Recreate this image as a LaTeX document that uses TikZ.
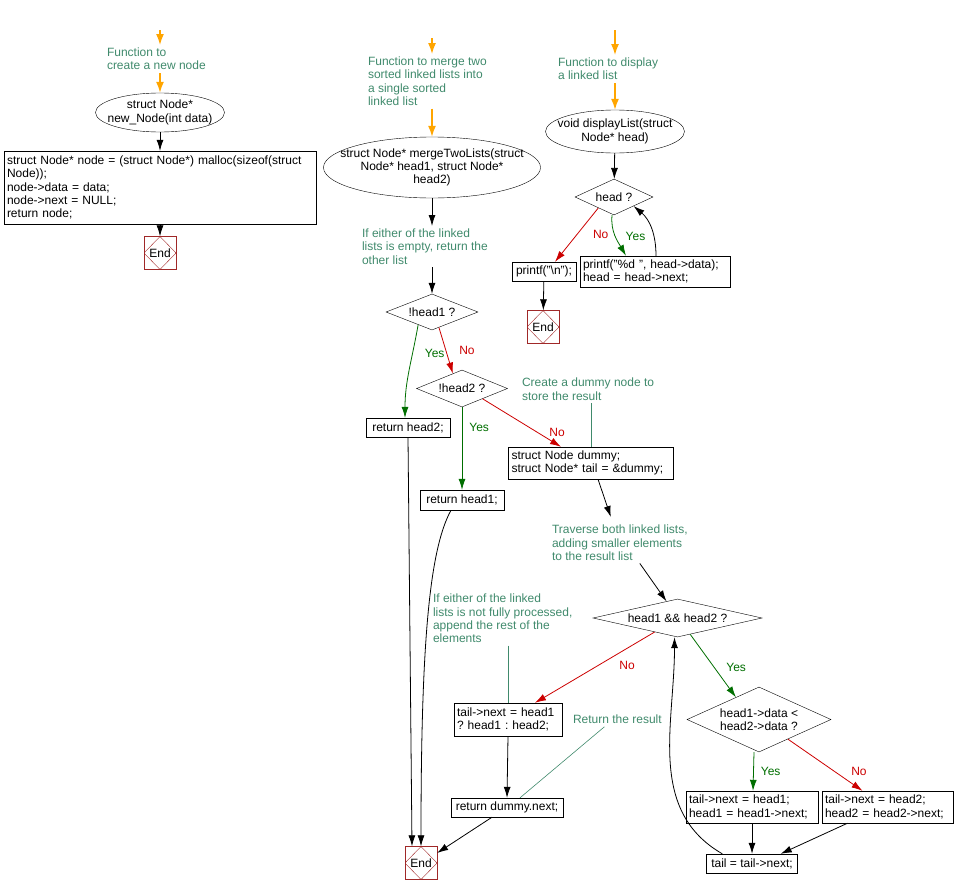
\documentclass[tikz,border=0pt]{standalone}
\usepackage{fontspec}
\setmainfont{Liberation Sans}
\usetikzlibrary{shapes.geometric,arrows.meta,positioning,calc}
\definecolor{notegreen}{RGB}{64,138,108}
\definecolor{yesgreen}{RGB}{0,110,0}
\definecolor{nored}{RGB}{204,0,0}
\definecolor{entryorange}{RGB}{255,165,0}
\definecolor{endred}{RGB}{160,40,40}
\tikzset{
    every node/.style={font=\fontsize{12}{13.3}\selectfont\frenchspacing},
    func/.style={ellipse, draw, align=center, inner xsep=-30pt, inner ysep=0pt},
    proc/.style={draw, align=center, inner sep=3pt},
    stmt/.style={draw, align=left, inner sep=3pt},
    decision/.style={diamond, draw, align=center, inner sep=0pt},
    endbox/.style={draw=endred, minimum width=32pt, minimum height=33pt, inner sep=0pt,
        path picture={\draw[endred] (path picture bounding box.north) -- (path picture bounding box.east)
            -- (path picture bounding box.south) -- (path picture bounding box.west) -- cycle;}},
    note/.style={text=notegreen, align=left, inner sep=0pt, outer sep=3pt, anchor=north west},
    flow/.style={-{Latex[length=11pt,width=7pt]}, line width=0.8pt},
    entry/.style={-{Latex[length=11pt,width=8pt]}, entryorange, line width=1.5pt},
    yesarrow/.style={flow, yesgreen},
    noarrow/.style={flow, nored},
    link/.style={notegreen, line width=0.6pt},
    lbl/.style={inner sep=1pt}
}
\begin{document}
\begin{tikzpicture}[x=1pt, y=-1pt]
\useasboundingbox (0,0) rectangle (955,894);

\coordinate (in1) at (160,30);
\node[note] (c1) at (104,45) {Function to\\create a new node};
\node[func, minimum width=129pt, minimum height=39pt] (newnode) at (160,112.5) {struct Node*\\new\_Node(int data)};
\node[stmt, text width=306pt, minimum height=73pt, below of=newnode, node distance=75pt] (alloc) {struct Node* node = (struct Node*) malloc(sizeof(struct\\Node));\\node->data = data;\\node->next = NULL;\\return node;};
\node[endbox, below of=alloc, node distance=65.5pt] (end1) {End};

\coordinate (in2) at (432,38);
\node[note] (c2) at (365,54) {Function to merge two\\sorted linked lists into\\a single sorted\\linked list};
\node[func, minimum width=217pt, minimum height=61pt] (merge) at (432,167.5) {struct Node* mergeTwoLists(struct\\Node* head1, struct Node*\\head2)};
\node[note] (c4) at (359,226) {If either of the linked\\lists is empty, return the\\other list};
\node[decision, aspect=2.5, minimum width=92pt, minimum height=36pt, below of=merge, node distance=144.5pt] (h1) {!head1 ?};
\node[decision, aspect=2.5, minimum width=91pt, minimum height=37pt, below of=h1, node distance=76.5pt, xshift=30pt] (h2) {!head2 ?};
\node[proc, minimum width=84pt, minimum height=19pt, below of=h1, node distance=115.5pt, xshift=-24pt] (ret2) {return head2;};
\node[proc, minimum width=84pt, minimum height=20pt, below of=h2, node distance=111.5pt] (ret1) {return head1;};
\node[note] (c5) at (519,375) {Create a dummy node to\\store the result};
\node[stmt, text width=159pt, minimum height=32pt] (dummy) at (591,463) {struct Node dummy;\\struct Node* tail = \&dummy;};
\node[note] (c6) at (549,522) {Traverse both linked lists,\\adding smaller elements\\to the result list};
\node[decision, aspect=4.4, minimum width=169pt, minimum height=38pt] (hh) at (677.5,618) {head1 \&\& head2 ?};
\node[decision, aspect=2.2, minimum width=144pt, minimum height=65pt] (hd) at (759,719.5) {head1->data <\\head2->data ?};
\node[stmt, text width=126pt, minimum height=32pt, below of=hd, node distance=87.5pt, xshift=-7pt] (lbox) {tail->next = head1;\\head1 = head1->next;};
\node[stmt, text width=125pt, minimum height=32pt, right of=lbox, node distance=135.5pt] (rbox) {tail->next = head2;\\head2 = head2->next;};
\node[proc, minimum width=91pt, minimum height=19pt, below of=lbox, node distance=56.5pt] (tail) {tail = tail->next;};
\node[note] (c7) at (430,591) {If either of the linked\\lists is not fully processed,\\append the rest of the\\elements};
\node[stmt, text width=102pt, minimum height=33pt] (append) at (508,719.5) {tail->next = head1\\? head1 : head2;};
\node[note] (c8) at (570,712) {Return the result};
\node[proc, minimum width=112pt, minimum height=19pt, below of=append, node distance=88pt, xshift=-1pt] (retd) {return dummy.next;};
\node[endbox] (end3) at (421,863) {End};

\coordinate (in3) at (615,30);
\node[note] (c3) at (555,55) {Function to display\\a linked list};
\node[func, minimum width=139pt, minimum height=43pt] (disp) at (615,131.5) {void displayList(struct\\Node* head)};
\node[decision, aspect=2.2, minimum width=78pt, minimum height=36pt, below of=disp, node distance=65.5pt, xshift=-1pt] (hq) {head ?};
\node[proc, minimum width=64pt, minimum height=19pt] (pf) at (544,271.5) {printf("\textbackslash n");};
\node[stmt, text width=144pt, minimum height=31pt, right of=pf, node distance=111pt] (pbox) {printf("\%d ", head->data);\\head = head->next;};
\node[endbox, below of=pf, node distance=55.5pt, xshift=-1pt] (end2) {End};

\draw[entry] (in1) -- (in1 |- c1.north);
\draw[entry] (newnode |- c1.south) -- (newnode);
\draw[flow] (newnode) -- (alloc);
\draw[flow] (alloc) -- (end1);

\draw[entry] (in2) -- (in2 |- c2.north);
\draw[entry] (merge |- c2.south) -- (merge);
\draw[flow] (merge) -- (merge |- c4.north);
\draw[flow] (h1 |- c4.south) -- (h1);
\draw[yesarrow] ($(h1.south)!0.3!(h1.west)$) to[out=-100, in=90] node[lbl, pos=0.3, right=11pt] {Yes} ($(ret2.north)+(-3,0)$);
\draw[noarrow] ($(h1.south)!0.15!(h1.east)$) -- node[lbl, right=12pt] {No} ($(h2.north)!0.2!(h2.west)$);
\draw[yesarrow] (h2.south) -- node[lbl, pos=0.25, right=6pt] {Yes} (ret1.north);
\draw[noarrow] ($(h2.south)!0.45!(h2.east)$) -- node[lbl, pos=0.95, above=6pt] {No} ($(dummy.north)+(-30,0)$);
\draw[link] (dummy.north |- c5.south) -- (dummy.north);
\draw[flow] ($(dummy.south)+(7,0)$) -- ($(c6.north)+(-9,-5)$);
\draw[flow] ($(c6.south)+(20,0)$) -- ($(hh.north)!0.13!(hh.west)$);
\draw[noarrow] ($(hh.south)!0.27!(hh.west)$) -- node[lbl, pos=0.23, below=12pt] {No} ($(append.north)+(27,0)$);
\draw[yesarrow] ($(hh.south)!0.15!(hh.east)$) -- node[lbl, pos=0.52, right=11pt] {Yes} ($(hd.north)!0.32!(hd.west)$);
\draw[yesarrow] ($(hd.south)+(-5,0)$) -- node[lbl, right=6pt] {Yes} ($(lbox.north)+(1,0)$);
\draw[noarrow] ($(hd.south)!0.4!(hd.east)$) -- node[lbl, pos=0.63, right=15pt] {No} ($(rbox.north)+(-25,0)$);
\draw[flow] (lbox.south) -- (tail.north);
\draw[flow] ($(rbox.south)+(-40,0)$) -- ($(tail.north east)+(-17,0)$);
\draw[flow] ($(tail.north west)+(16,0)$) to[out=150, in=-90] ($(hh.south)+(-3,0)$);
\draw[link] (append.north |- c7.south) -- (append.north);
\draw[flow] (append.south) -- (retd.north);
\draw[link] ($(c8.south)+(-13,0)$) -- ($(retd.north)+(13,0)$);
\draw[flow] ($(retd.south)+(-15,0)$) -- ($(end3.north east)!0.4!(end3.east)$);
\draw[flow] (ret2.south) -- ($(end3.north)+(-9,0)$);
\draw[flow] ($(ret1.south)+(-11,0)$) .. controls ($(ret1.south)+(-33,40)$) and ($(end3.north)+(0,-200)$) .. (end3.north);

\draw[entry] (in3) -- (in3 |- c3.north);
\draw[entry] (disp |- c3.south) -- (disp);
\draw[flow] (disp) -- (hq);
\draw[noarrow] ($(hq.south)!0.4!(hq.west)$) -- node[lbl, right=15pt] {No} ($(pf.north)+(11,0)$);
\draw[yesarrow] ($(hq.south)+(-2,0)$) to[out=-95, in=120] node[lbl, right=9pt] {Yes} ($(pbox.north)+(-29,0)$);
\draw[flow] ($(pbox.north)+(1,0)$) to[out=90, in=-40] ($(hq.south)!0.5!(hq.east)$);
\draw[flow] (pf) -- (end2);
\end{tikzpicture}
\end{document}
